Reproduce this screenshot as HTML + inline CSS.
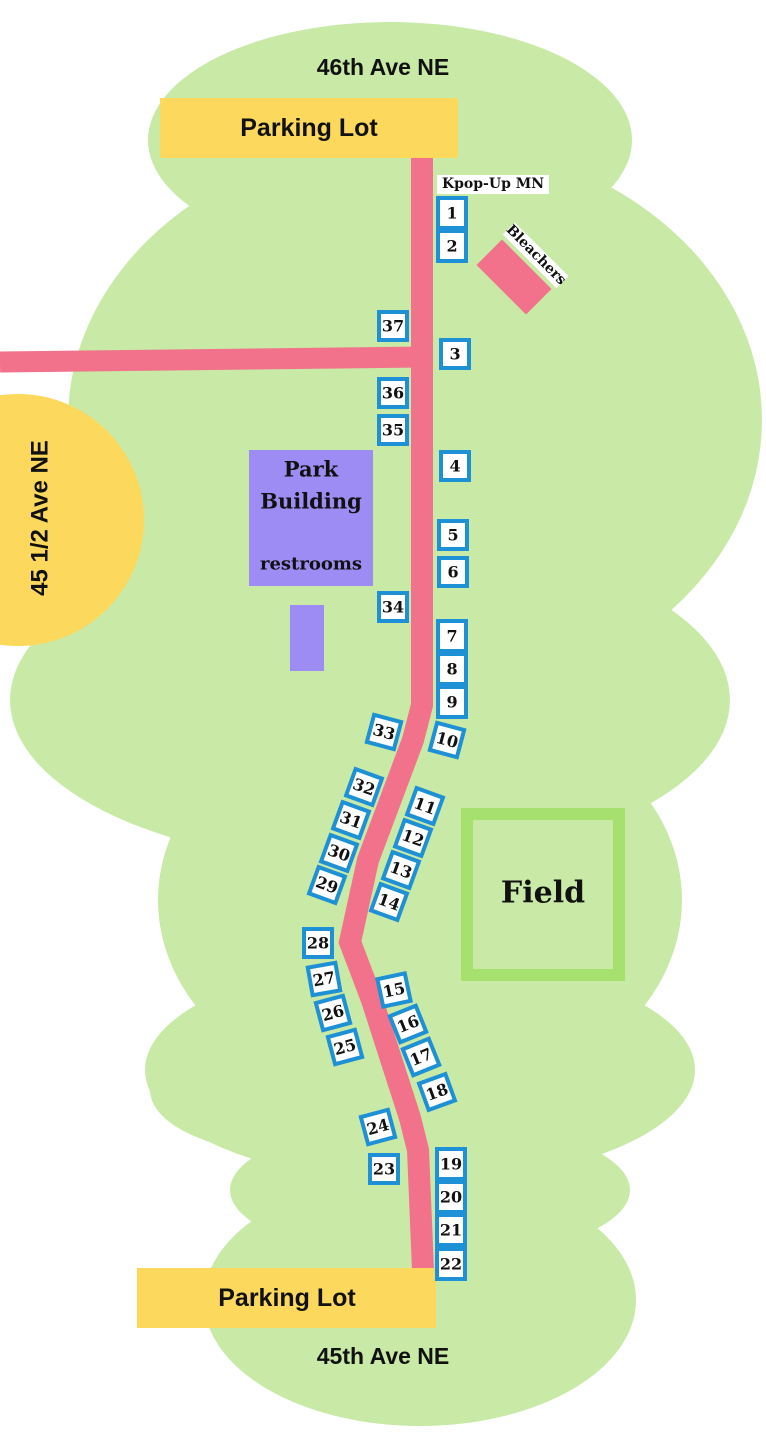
<!DOCTYPE html>
<html><head><meta charset="utf-8"><style>
html,body{margin:0;padding:0;background:#fff;}
svg{display:block;}
.n{font-family:"DejaVu Serif","Liberation Serif",serif;font-weight:bold;font-size:16px;fill:#111;text-anchor:middle;dominant-baseline:central;}
.s{font-family:"Liberation Sans",sans-serif;font-weight:bold;fill:#111;text-anchor:middle;dominant-baseline:central;}
.sl{font-family:"DejaVu Serif","Liberation Serif",serif;font-weight:bold;fill:#111;text-anchor:middle;dominant-baseline:central;}
</style></head><body>
<svg width="766" height="1439" viewBox="0 0 766 1439" xmlns="http://www.w3.org/2000/svg">
<g fill="#c8eaa6">
<ellipse cx="390" cy="140" rx="242" ry="118"/>
<ellipse cx="415" cy="420" rx="347" ry="282"/>
<ellipse cx="370" cy="700" rx="360" ry="165"/>
<ellipse cx="420" cy="900" rx="262" ry="205"/>
<ellipse cx="420" cy="1070" rx="275" ry="112"/>
<ellipse cx="300" cy="1090" rx="150" ry="65"/>
<ellipse cx="420" cy="1300" rx="216" ry="126"/>
<ellipse cx="430" cy="1190" rx="200" ry="70"/>
</g>
<circle cx="18" cy="520" r="126" fill="#fcd95c"/>
<text class="s" font-size="24" transform="translate(40,518) rotate(-90)">45 1/2 Ave NE</text>
<path d="M0,362 L422,357" stroke="#f2718b" stroke-width="21" fill="none"/>
<path d="M422,158 L422,705 L413,740 L368,860 L350,942 L372,1000 L410,1118 L418,1150 L423,1270" stroke="#f2718b" stroke-width="22" fill="none" stroke-linejoin="miter"/>
<rect x="160" y="98" width="298" height="60" fill="#fcd95c"/>
<text class="s" font-size="25" x="309" y="128">Parking Lot</text>
<rect x="137" y="1268" width="299" height="60" fill="#fcd95c"/>
<text class="s" font-size="25" x="287" y="1298">Parking Lot</text>
<text class="s" font-size="23" x="383" y="67">46th Ave NE</text>
<text class="s" font-size="23" x="383" y="1356">45th Ave NE</text>
<rect x="249" y="450" width="124" height="136" fill="#9e8cf5"/>
<text class="sl" font-size="21" x="311" y="469">Park</text>
<text class="sl" font-size="21" x="311" y="501">Building</text>
<text class="sl" font-size="18" x="311" y="564">restrooms</text>
<rect x="290" y="605" width="34" height="66" fill="#9e8cf5"/>
<rect x="467" y="814" width="152" height="161" fill="none" stroke="#a6e06e" stroke-width="12"/>
<text class="sl" font-size="30" x="543" y="893">Field</text>
<rect x="437" y="175" width="112" height="19" fill="#fff"/>
<text class="sl" font-size="14" x="493" y="184">Kpop-Up MN</text>
<g transform="translate(514,277) rotate(45)"><rect x="-35" y="-18" width="70" height="36" fill="#f2718b"/></g>
<g transform="translate(536,255) rotate(45)"><rect x="-38" y="-8" width="76" height="17" fill="#fff"/><text class="sl" font-size="14" x="0" y="0">Bleachers</text></g>
<g>
<g transform="translate(452,213)"><rect x="-14" y="-15" width="28" height="30" fill="#fff" stroke="#1e90d6" stroke-width="4"/><text class="n">1</text></g>
<g transform="translate(452,246)"><rect x="-14" y="-15" width="28" height="30" fill="#fff" stroke="#1e90d6" stroke-width="4"/><text class="n">2</text></g>
<g transform="translate(455,354)"><rect x="-14" y="-14" width="28" height="28" fill="#fff" stroke="#1e90d6" stroke-width="4"/><text class="n">3</text></g>
<g transform="translate(393,326)"><rect x="-14" y="-14" width="28" height="28" fill="#fff" stroke="#1e90d6" stroke-width="4"/><text class="n">37</text></g>
<g transform="translate(393,393)"><rect x="-14" y="-14" width="28" height="28" fill="#fff" stroke="#1e90d6" stroke-width="4"/><text class="n">36</text></g>
<g transform="translate(393,430)"><rect x="-14" y="-14" width="28" height="28" fill="#fff" stroke="#1e90d6" stroke-width="4"/><text class="n">35</text></g>
<g transform="translate(455,466)"><rect x="-14" y="-14" width="28" height="28" fill="#fff" stroke="#1e90d6" stroke-width="4"/><text class="n">4</text></g>
<g transform="translate(453,535)"><rect x="-14" y="-14" width="28" height="28" fill="#fff" stroke="#1e90d6" stroke-width="4"/><text class="n">5</text></g>
<g transform="translate(453,572)"><rect x="-14" y="-14" width="28" height="28" fill="#fff" stroke="#1e90d6" stroke-width="4"/><text class="n">6</text></g>
<g transform="translate(393,607)"><rect x="-14" y="-14" width="28" height="28" fill="#fff" stroke="#1e90d6" stroke-width="4"/><text class="n">34</text></g>
<g transform="translate(452,636)"><rect x="-14" y="-15" width="28" height="30" fill="#fff" stroke="#1e90d6" stroke-width="4"/><text class="n">7</text></g>
<g transform="translate(452,669)"><rect x="-14" y="-15" width="28" height="30" fill="#fff" stroke="#1e90d6" stroke-width="4"/><text class="n">8</text></g>
<g transform="translate(452,702)"><rect x="-14" y="-15" width="28" height="30" fill="#fff" stroke="#1e90d6" stroke-width="4"/><text class="n">9</text></g>
<g transform="translate(447,740) rotate(15)"><rect x="-14" y="-14" width="28" height="28" fill="#fff" stroke="#1e90d6" stroke-width="4"/><text class="n">10</text></g>
<g transform="translate(384,732) rotate(15)"><rect x="-14" y="-14" width="28" height="28" fill="#fff" stroke="#1e90d6" stroke-width="4"/><text class="n">33</text></g>
<g transform="translate(364,787) rotate(20)"><rect x="-14" y="-14" width="28" height="28" fill="#fff" stroke="#1e90d6" stroke-width="4"/><text class="n">32</text></g>
<g transform="translate(351,820) rotate(20)"><rect x="-14" y="-14" width="28" height="28" fill="#fff" stroke="#1e90d6" stroke-width="4"/><text class="n">31</text></g>
<g transform="translate(339,853) rotate(20)"><rect x="-14" y="-14" width="28" height="28" fill="#fff" stroke="#1e90d6" stroke-width="4"/><text class="n">30</text></g>
<g transform="translate(327,885) rotate(20)"><rect x="-14" y="-14" width="28" height="28" fill="#fff" stroke="#1e90d6" stroke-width="4"/><text class="n">29</text></g>
<g transform="translate(425,806) rotate(20)"><rect x="-14" y="-14" width="28" height="28" fill="#fff" stroke="#1e90d6" stroke-width="4"/><text class="n">11</text></g>
<g transform="translate(413,838) rotate(20)"><rect x="-14" y="-14" width="28" height="28" fill="#fff" stroke="#1e90d6" stroke-width="4"/><text class="n">12</text></g>
<g transform="translate(401,870) rotate(20)"><rect x="-14" y="-14" width="28" height="28" fill="#fff" stroke="#1e90d6" stroke-width="4"/><text class="n">13</text></g>
<g transform="translate(389,902) rotate(20)"><rect x="-14" y="-14" width="28" height="28" fill="#fff" stroke="#1e90d6" stroke-width="4"/><text class="n">14</text></g>
<g transform="translate(318,943)"><rect x="-14" y="-14" width="28" height="28" fill="#fff" stroke="#1e90d6" stroke-width="4"/><text class="n">28</text></g>
<g transform="translate(324,979) rotate(-10)"><rect x="-14" y="-14" width="28" height="28" fill="#fff" stroke="#1e90d6" stroke-width="4"/><text class="n">27</text></g>
<g transform="translate(333,1013) rotate(-15)"><rect x="-14" y="-14" width="28" height="28" fill="#fff" stroke="#1e90d6" stroke-width="4"/><text class="n">26</text></g>
<g transform="translate(345,1047) rotate(-15)"><rect x="-14" y="-14" width="28" height="28" fill="#fff" stroke="#1e90d6" stroke-width="4"/><text class="n">25</text></g>
<g transform="translate(394,990) rotate(-12)"><rect x="-14" y="-14" width="28" height="28" fill="#fff" stroke="#1e90d6" stroke-width="4"/><text class="n">15</text></g>
<g transform="translate(408,1024) rotate(-22)"><rect x="-14" y="-14" width="28" height="28" fill="#fff" stroke="#1e90d6" stroke-width="4"/><text class="n">16</text></g>
<g transform="translate(421,1057) rotate(-22)"><rect x="-14" y="-14" width="28" height="28" fill="#fff" stroke="#1e90d6" stroke-width="4"/><text class="n">17</text></g>
<g transform="translate(437,1092) rotate(-20)"><rect x="-14" y="-14" width="28" height="28" fill="#fff" stroke="#1e90d6" stroke-width="4"/><text class="n">18</text></g>
<g transform="translate(378,1127) rotate(-15)"><rect x="-14" y="-14" width="28" height="28" fill="#fff" stroke="#1e90d6" stroke-width="4"/><text class="n">24</text></g>
<g transform="translate(384,1169)"><rect x="-14" y="-14" width="28" height="28" fill="#fff" stroke="#1e90d6" stroke-width="4"/><text class="n">23</text></g>
<g transform="translate(451,1164)"><rect x="-14" y="-15" width="28" height="30" fill="#fff" stroke="#1e90d6" stroke-width="4"/><text class="n">19</text></g>
<g transform="translate(451,1197)"><rect x="-14" y="-15" width="28" height="30" fill="#fff" stroke="#1e90d6" stroke-width="4"/><text class="n">20</text></g>
<g transform="translate(451,1230)"><rect x="-14" y="-15" width="28" height="30" fill="#fff" stroke="#1e90d6" stroke-width="4"/><text class="n">21</text></g>
<g transform="translate(451,1264)"><rect x="-14" y="-15" width="28" height="30" fill="#fff" stroke="#1e90d6" stroke-width="4"/><text class="n">22</text></g>
</g>
</svg>
</body></html>
